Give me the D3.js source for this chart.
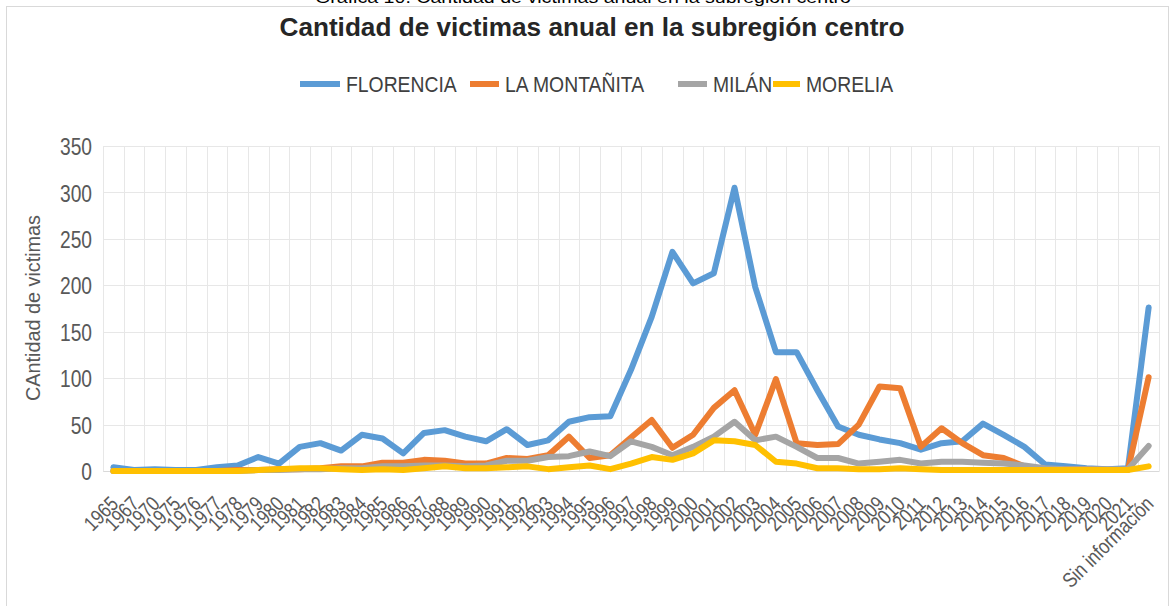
<!DOCTYPE html>
<html>
<head>
<meta charset="utf-8">
<script src="https://cdn.jsdelivr.net/npm/d3@7"></script>
<style>
  body { margin: 0; background: #fff; }
  svg { display: block; font-family: "Liberation Sans", Arial, sans-serif; }
</style>
</head>
<body>
<div id="chart"></div>
<script>
// categorias del eje x
var categories = ["1965","1967","1970","1975","1976","1977","1978","1979","1980","1981",
  "1982","1983","1984","1985","1986","1987","1988","1989","1990","1991",
  "1992","1993","1994","1995","1996","1997","1998","1999","2000","2001",
  "2002","2003","2004","2005","2006","2007","2008","2009","2010","2011",
  "2012","2013","2014","2015","2016","2017","2018","2019","2020","2021",
  "Sin información"];

var florencia = [4,1,2,1,1,4,6,15,8,26, 30,22,39,35,19,41,44,37,32,45,
  28,33,53,58,59,109,166,236,202,213, 305,198,128,128,87,48,39,34,30,23,
  30,32,51,39,26,7,5,3,2,3, 176];
var montanita = [0,0,0,0,0,0,1,1,2,2, 3,5,5,9,9,12,11,8,8,14,
  13,17,37,14,17,36,55,25,39,68, 87,39,99,30,28,29,50,91,89,26,
  46,30,17,14,5,2,2,2,1,1, 101];
var milan = [0,0,0,0,0,0,0,1,1,2, 2,3,3,5,5,6,6,5,6,11,
  11,15,16,21,16,32,26,17,26,37, 53,33,37,26,14,14,8,10,12,8,
  10,10,9,8,6,3,2,2,2,2, 27];
var morelia = [0,0,0,0,0,0,0,1,2,3, 3,2,1,2,1,3,5,3,3,4,
  5,2,4,6,2,8,15,12,19,33, 32,28,10,8,3,3,2,2,3,2,
  1,1,1,1,1,1,1,1,1,1, 5];

var seriesNames = ["FLORENCIA", "LA MONTAÑITA", "MILÁN", "MORELIA"];
var seriesColors = ["#5b9bd5", "#ed7d31", "#a5a5a5", "#ffc000"];
var yTicks = [0, 50, 100, 150, 200, 250, 300, 350];

var width = 1175, height = 606;
var plotLeft = 103, plotRight = 1159, plotTop = 146, plotBottom = 471;

var svg = d3.select("#chart").append("svg")
  .attr("width", width)
  .attr("height", height);

// marco del grafico
svg.append("rect")
  .attr("x", 6.5).attr("y", 6.5)
  .attr("width", 1162).attr("height", 640)
  .attr("fill", "none")
  .attr("stroke", "#d9d9d9");

// texto cortado arriba
svg.append("text")
  .attr("x", 583).attr("y", 3)
  .attr("text-anchor", "middle")
  .attr("font-size", 17)
  .attr("fill", "#000")
  .attr("textLength", 536).attr("lengthAdjust", "spacingAndGlyphs")
  .text("Gráfica 10. Cantidad de victimas anual en la subregión centro");

svg.append("text")
  .attr("x", 592).attr("y", 36)
  .attr("text-anchor", "middle")
  .attr("font-size", 26)
  .attr("font-weight", "bold")
  .attr("fill", "#262626")
  .attr("textLength", 625).attr("lengthAdjust", "spacingAndGlyphs")
  .text("Cantidad de victimas anual en la subregión centro");

var x = d3.scaleBand().domain(categories).range([plotLeft, plotRight]).padding(0);
var y = d3.scaleLinear().domain([0, 350]).range([plotBottom, plotTop]);

// lineas de la grilla
svg.append("g")
  .selectAll("line")
  .data(yTicks)
  .enter().append("line")
  .attr("x1", plotLeft).attr("x2", plotRight)
  .attr("y1", function(d) { return Math.round(y(d)) + 0.5; })
  .attr("y2", function(d) { return Math.round(y(d)) + 0.5; })
  .attr("stroke", "#e7e7e7");

svg.append("g")
  .selectAll("line")
  .data(categories.concat(["__end"]))
  .enter().append("line")
  .attr("x1", function(d, i) { return Math.round(plotLeft + i * x.bandwidth()) + 0.5; })
  .attr("x2", function(d, i) { return Math.round(plotLeft + i * x.bandwidth()) + 0.5; })
  .attr("y1", plotTop).attr("y2", plotBottom)
  .attr("stroke", "#e7e7e7");

// eje y
var yAxis = svg.append("g")
  .attr("transform", "translate(" + plotLeft + ",0)")
  .call(d3.axisLeft(y).tickValues(yTicks).tickSize(0).tickPadding(0));
yAxis.select(".domain").remove();
yAxis.selectAll("text")
  .attr("x", 0)
  .attr("dy", "0.36em")
  .attr("font-size", 24)
  .attr("fill", "#595959")
  .attr("transform", "translate(-11,0) scale(0.8,1)");

// eje x
var xAxis = svg.append("g")
  .attr("transform", "translate(0," + plotBottom + ")")
  .call(d3.axisBottom(x).tickSize(0).tickPadding(0));
xAxis.select(".domain")
  .attr("stroke", "#d9d9d9");
xAxis.selectAll("text")
  .attr("x", 0).attr("y", 0)
  .attr("dy", "0.35em")
  .attr("text-anchor", "end")
  .attr("font-size", 21)
  .attr("fill", "#595959")
  .attr("transform", "translate(1,29) rotate(-45) scale(0.82,1)");

// titulo eje y
svg.append("text")
  .attr("transform", "translate(40,308) rotate(-90)")
  .attr("text-anchor", "middle")
  .attr("font-size", 20)
  .attr("fill", "#595959")
  .attr("textLength", 186).attr("lengthAdjust", "spacingAndGlyphs")
  .text("CAntidad de victimas");

// series
var allSeries = [florencia, montanita, milan, morelia];
var line = d3.line()
  .x(function(d, i) { return x(categories[i]) + x.bandwidth() / 2; })
  .y(function(d) { return y(d); });

svg.append("g")
  .selectAll("path")
  .data(allSeries)
  .enter().append("path")
  .attr("d", line)
  .attr("fill", "none")
  .attr("stroke", function(d, i) { return seriesColors[i]; })
  .attr("stroke-width", 6)
  .attr("stroke-linejoin", "round")
  .attr("stroke-linecap", "round");

// leyenda
var legendX = [300, 470, 678, 773];
var legendGap = [46, 35, 35, 33];
var legend = svg.append("g")
  .selectAll("g")
  .data(seriesNames)
  .enter().append("g")
  .attr("transform", function(d, i) { return "translate(" + legendX[i] + ",84)"; });

legend.append("line")
  .attr("x1", 0).attr("x2", function(d, i) { return legendGap[i] - 6; })
  .attr("y1", 0).attr("y2", 0)
  .attr("stroke", function(d, i) { return seriesColors[i]; })
  .attr("stroke-width", 6);

legend.append("text")
  .attr("dy", "0.36em")
  .attr("font-size", 22)
  .attr("fill", "#404040")
  .attr("transform", function(d, i) { return "translate(" + legendGap[i] + ",0) scale(0.88,1)"; })
  .text(function(d) { return d; });
</script>
</body>
</html>
